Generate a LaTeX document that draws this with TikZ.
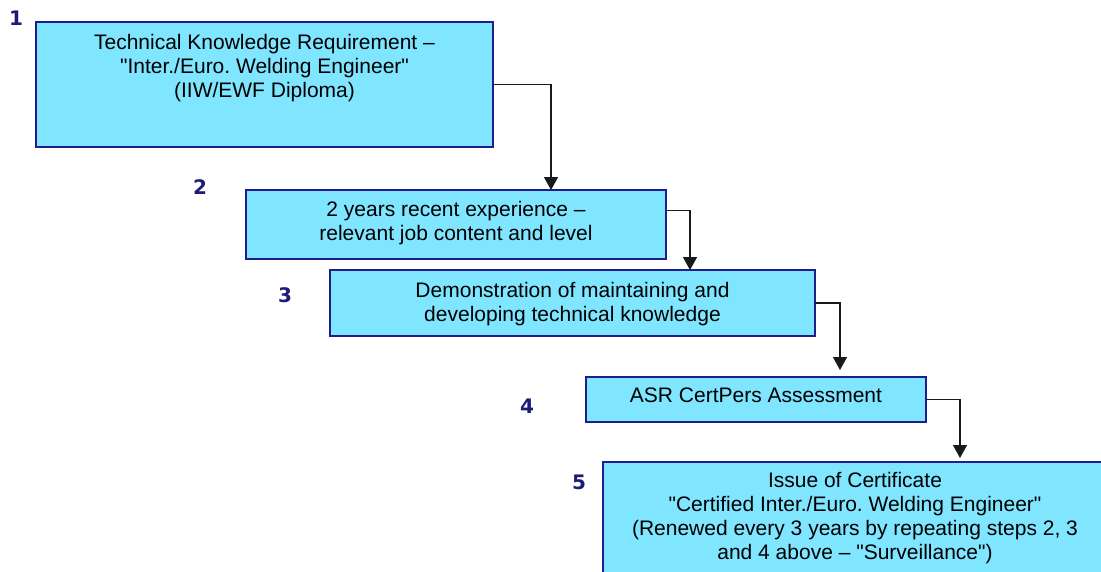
\documentclass[tikz,border=0pt]{standalone}
\usepackage{fontspec}
\setmainfont{Liberation Sans}
\newfontfamily\numberfont{DejaVu Sans}
\newcommand*{\boxfont}{\fontsize{21}{24}\selectfont}
\newcommand*{\numfont}{\numberfont\bfseries\fontsize{20}{20}\selectfont}
\newcommand*{\qt}{\textquotedbl}
\definecolor{boxfill}{RGB}{128,229,255}
\definecolor{boxline}{RGB}{30,30,140}
\definecolor{numblue}{RGB}{28,28,120}
\definecolor{arrowline}{RGB}{25,25,25}
\usetikzlibrary{arrows.meta}
\usetikzlibrary{positioning}
\tikzstyle{flowchart}=[x=1pt, y=-1pt, inner sep=0pt, outer sep=0pt]
\tikzstyle{stepbox}=[draw=boxline, fill=boxfill, line width=1.5pt, anchor=north west]
\tikzstyle{steptext}=[align=center, font=\boxfont]
\tikzstyle{stepnum}=[numblue, font=\numfont]
\tikzstyle{flow}=[arrowline, line width=1.5pt, -{Triangle[width=14pt,length=13pt]}]
\frenchspacing
\begin{document}
\begin{tikzpicture}[flowchart]
    \path [use as bounding box] (0,0) rectangle (1101,571);
        \node [stepbox, minimum width=457pt, minimum height=125pt] (s1) at (36,22) {};
        \node [stepbox, minimum width=420pt, minimum height=69pt] (s2) at (246,190) {};
        \node [stepbox, minimum width=485pt, minimum height=66pt] (s3) at (330,270) {};
        \node [stepbox, minimum width=340pt, minimum height=45pt] (s4) at (586,377) {};
        \node [stepbox, minimum width=520pt, minimum height=125pt] (s5) at (603,462) {};
        \node [steptext, below=12pt of s1.north] (t1) {Technical Knowledge Requirement --\\\qt Inter./Euro. Welding Engineer\qt\\(IIW/EWF Diploma)};
        \node [steptext, below=11pt of s2.north] (t2) {2 years recent experience --\\relevant job content and level};
        \node [steptext, below=12pt of s3.north] (t3) {Demonstration of maintaining and\\developing technical knowledge};
        \node [steptext, below=11pt of s4.north] (t4) {ASR CertPers Assessment};
        \node [steptext, below=10pt of s5.north, xshift=-8pt] (t5) {Issue of Certificate\\\qt Certified Inter./Euro. Welding Engineer\qt\\(Renewed every 3 years by repeating steps 2, 3\\and 4 above -- \qt Surveillance\qt)};
        \node [stepnum] (n1) at (16,18) {1};
        \node [stepnum] (n2) at (200,187) {2};
        \node [stepnum] (n3) at (285,295) {3};
        \node [stepnum] (n4) at (527,406) {4};
        \node [stepnum] (n5) at (579,482) {5};
        \draw [flow] (s1.east) -| ([xshift=95pt]s2.north);
        \draw [flow] ([yshift=14pt]s2.east) -| ([xshift=117.5pt]s3.north);
        \draw [flow] (s3.east) -| ([xshift=84pt,yshift=7pt]s4.north);
        \draw [flow] (s4.east) -| ([xshift=97pt,yshift=4pt]s5.north);
    \end{tikzpicture}
\end{document}
